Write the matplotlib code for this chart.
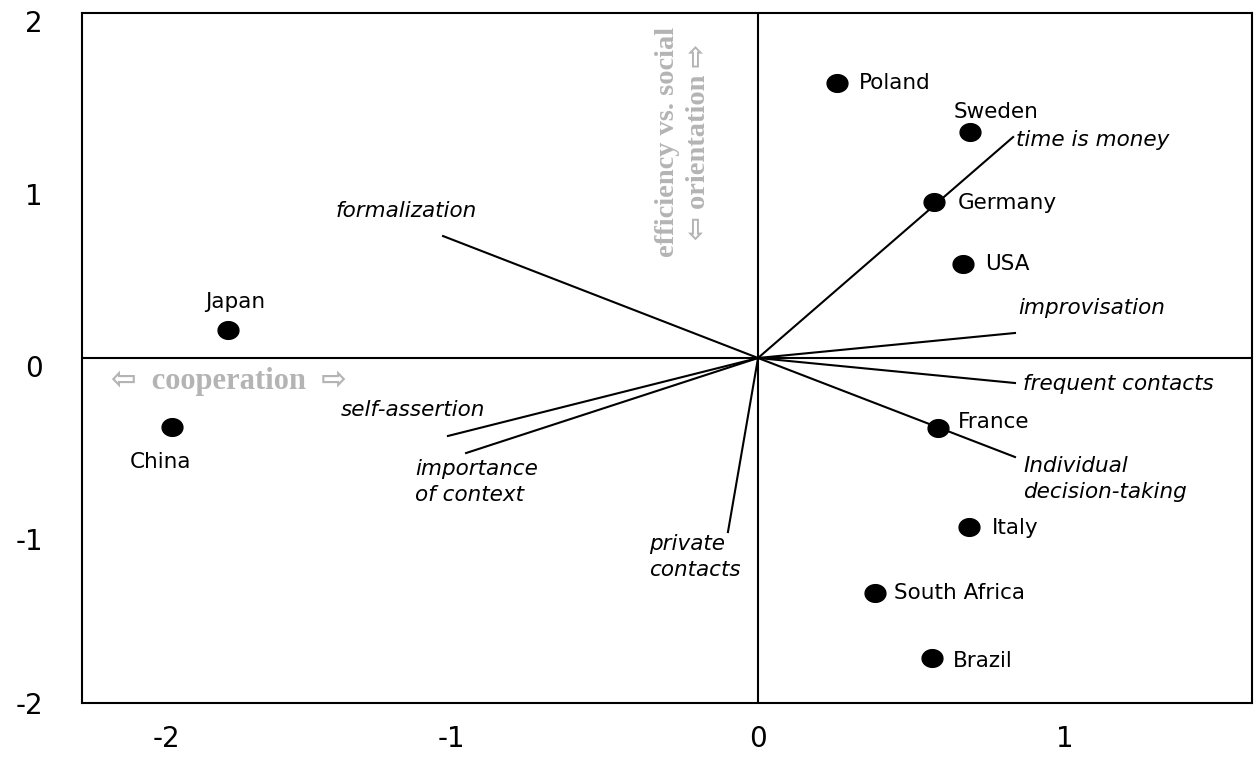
import numpy as np
import matplotlib
matplotlib.use("Agg")
import matplotlib.pyplot as plt
from matplotlib.path import Path
from matplotlib.transforms import ScaledTranslation

# ---- data ----
countries = ["Poland", "Sweden", "Germany", "USA", "Japan", "China",
             "France", "Italy", "South Africa", "Brazil"]
country_x = [0.257, 0.691, 0.573, 0.668, -1.726, -1.909, 0.586, 0.687, 0.381, 0.567]
country_y = [1.594, 1.310, 0.904, 0.545, 0.162, -0.400, -0.406, -0.980, -1.362, -1.739]

vectors = ["time is money", "improvisation", "frequent contacts",
           "Individual\ndecision-taking", "formalization", "self-assertion",
           "importance\nof context", "private\ncontacts"]
vector_x = [0.831, 0.837, 0.837, 0.837, -1.026, -1.010, -0.951, -0.098]
vector_y = [1.281, 0.145, -0.145, -0.574, 0.707, -0.452, -0.551, -1.009]

xticks = [-2, -1, 0, 1]
yticks = [-2, -1, 0, 1, 2]

# ---- label placement (pixel offsets, alignment) ----
country_lab = {
    "Poland": (22, 0, "left"), "Sweden": (26, 20, "center"),
    "Germany": (24, -1, "left"), "USA": (22, 0, "left"),
    "Japan": (7, 28, "center"), "China": (-11, -35, "center"),
    "France": (20, 6, "left"), "Italy": (23, -1, "left"),
    "South Africa": (19, 0, "left"), "Brazil": (21, -3, "left"),
}
vector_lab = {
    "time is money": (3, -3, "left"), "improvisation": (3, 25, "left"),
    "frequent contacts": (8, -1, "left"),
    "Individual\ndecision-taking": (8, -22, "left"),
    "formalization": (-37, 25, "center"), "self-assertion": (-35, 26, "center"),
    "importance\nof context": (-51, -29, "left"),
    "private\ncontacts": (-79, -25, "left"),
}

fig = plt.figure(figsize=(12.56, 7.58), dpi=100)
ax = fig.add_axes([82/1256, 55/758, 1170/1256, 690/758])
ax.set_xlim(-2.202, 1.609)
ax.set_ylim(-2.0, 2.0)

for s in ax.spines.values():
    s.set_linewidth(1.5)
    s.set_color("black")

ax.axhline(0, color="black", lw=1.5, zorder=1)
ax.axvline(0, color="black", lw=1.5, zorder=1)

# vectors
for name, vx, vy in zip(vectors, vector_x, vector_y):
    ax.plot([0, vx], [0, vy], color="black", lw=1.5, zorder=2)
    dx, dy, ha = vector_lab[name]
    ax.annotate(name, (vx, vy), xytext=(dx, dy), textcoords="offset pixels",
                ha=ha, va="center", fontsize=15.5, style="italic",
                linespacing=1.35, color="black", zorder=4)

# country points (slightly flattened ellipses)
t = np.linspace(0, 2*np.pi, 60)
ell = Path(np.column_stack([np.cos(t), 0.85*np.sin(t)]), closed=True)
ax.plot(country_x, country_y, linestyle="none", marker=ell, markersize=15,
        color="black", zorder=3)
for name, cx, cy in zip(countries, country_x, country_y):
    dx, dy, ha = country_lab[name]
    ax.annotate(name, (cx, cy), xytext=(dx, dy), textcoords="offset pixels",
                ha=ha, va="center", fontsize=15.5, color="black", zorder=4)

# grey axis captions
grey = "#b4b4b4"
fam = ["Liberation Serif", "DejaVu Sans"]
ax.text(-2.107, -0.139, "\u21e6  cooperation  \u21e8", ha="left", va="center",
        fontsize=22, fontweight="bold", color=grey, family=fam)
ax.text(-0.244, 1.252, "efficiency vs. social\n\u21e6 orientation \u21e8",
        rotation=90, ha="center", va="center", multialignment="center",
        fontsize=20.5, fontweight="bold", color=grey, family=fam, linespacing=1.3)

# ticks
ax.set_xticks(xticks)
ax.set_yticks(yticks)
ax.set_xticklabels([str(v) for v in xticks])
ax.set_yticklabels([str(v) for v in yticks])
ax.tick_params(axis="both", length=0, labelsize=20)
ax.tick_params(axis="x", pad=16)
ax.tick_params(axis="y", pad=28)

for v, tk in zip(yticks, ax.yaxis.get_major_ticks()):
    dy = 0.0 if v == -2 else -0.08
    tk.label1.set_transform(tk.label1.get_transform() +
                            ScaledTranslation(0, dy, fig.dpi_scale_trans))
xt = ax.xaxis.get_major_ticks()
xt[0].label1.set_transform(xt[0].label1.get_transform() +
                           ScaledTranslation(0.22, 0, fig.dpi_scale_trans))

fig.savefig("out.png", dpi=100)
